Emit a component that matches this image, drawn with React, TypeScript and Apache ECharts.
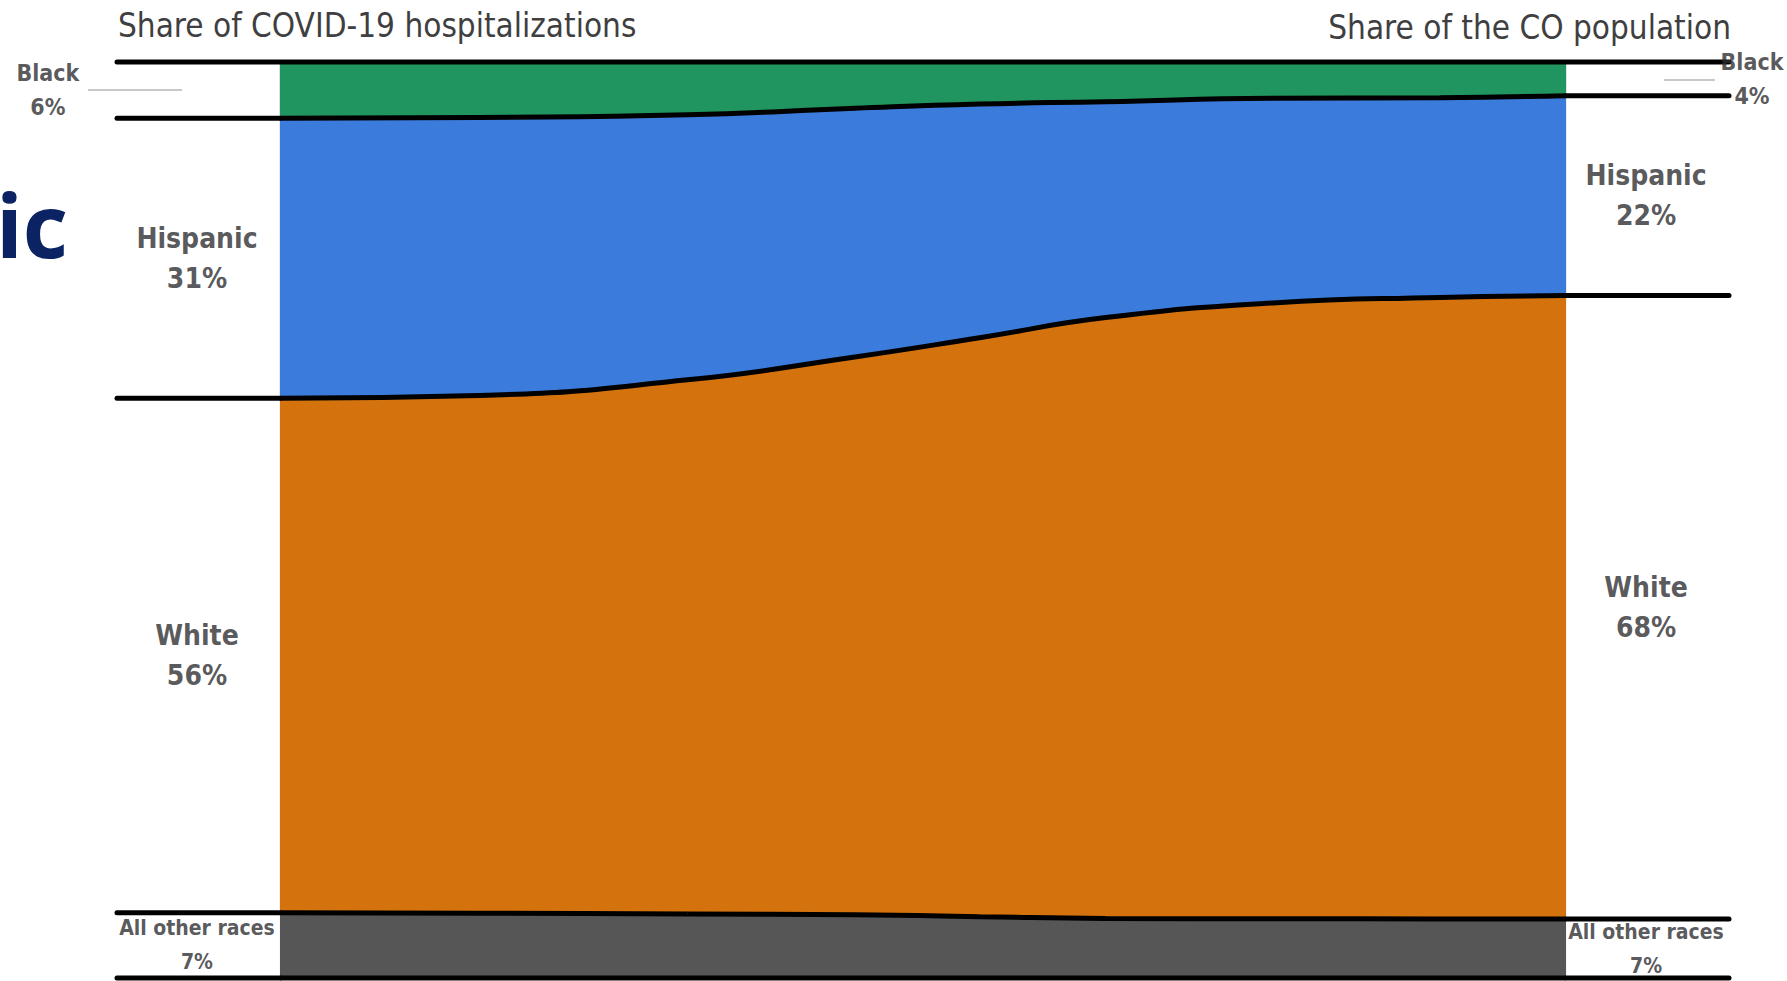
import React, { useEffect, useRef } from 'react';
import * as echarts from 'echarts';

// ---- Data ----
const groups = ['Black', 'Hispanic', 'White', 'All other races'];
// relative position along the transition (0 = hospitalizations, 1 = population)
const xSamples = [0, 0.155, 0.317, 0.447, 0.544, 0.642, 0.772, 0.902, 1];
const blackShare = [6.15, 6.06, 5.77, 5.05, 4.59, 4.33, 3.95, 3.89, 3.68];
const hispanicShare = [30.55, 30.34, 28.93, 27.15, 25.51, 23.57, 22.35, 21.81, 21.82];
const whiteShare = [56.17, 56.53, 58.3, 60.9, 63.2, 65.6, 67.23, 67.85, 68.06];
const otherShare = [7.13, 7.07, 7.0, 6.9, 6.7, 6.5, 6.47, 6.45, 6.44];
const hospLabels = ['6%', '31%', '56%', '7%'];
const popLabels = ['4%', '22%', '68%', '7%'];
const leftTitle = 'Share of COVID-19 hospitalizations';
const rightTitle = 'Share of the CO population';
const cutTitle = 'ic';

// ---- Styles ----
const COLORS = ['#20955f', '#3b7bdc', '#d4730d', '#565656'];
const FONT = "'Liberation Sans Narrow', 'DejaVu Sans Condensed', 'Roboto Condensed', 'Liberation Sans', sans-serif";
const TEXT = '#2e2e32';
const XMIN = -0.1267;
const XMAX = 1.1267;
const LEFT_LABEL_X = -0.0645;
const RIGHT_LABEL_X = 1.0622;
const LEFT_BLACK_X = -0.1804;
const RIGHT_BLACK_X = 1.1446;

export default function App() {
  const ref = useRef<HTMLDivElement>(null);

  useEffect(() => {
    const chart = echarts.init(ref.current!, null, { renderer: 'svg' });
    const shares = [blackShare, hispanicShare, whiteShare, otherShare];
    const n = xSamples.length;
    // cumulative boundaries from the top
    const cum: number[][] = [];
    let acc = new Array(n).fill(0);
    cum.push(acc.slice());
    shares.forEach((s) => {
      acc = acc.map((v, i) => v + s[i]);
      cum.push(acc.slice());
    });

    // Each area fills from the top (0) down to its lower boundary; painted
    // bottom group first so the upper groups cover the shared part.
    const areaSeries = shares
      .map((_, gi) => ({
        type: 'line',
        name: groups[gi],
        smooth: 0.5,
        symbol: 'none',
        clip: false,
        data: xSamples.map((x, i) => [x, cum[gi + 1][i]]),
        lineStyle: { color: '#000', width: 5 },
        areaStyle: { color: COLORS[gi], opacity: 1, origin: 'start' },
        z: 6 - gi,
      }))
      .reverse();

    const extSeries: any[] = [];
    cum.forEach((b, k) => {
      const lineStyle = { color: '#000', width: 5, cap: 'round' };
      if (k === 0) {
        extSeries.push({
          type: 'line', symbol: 'none', clip: false, silent: true, z: 10,
          data: [[XMIN, b[0]], [XMAX, b[n - 1]]], lineStyle,
        });
      } else {
        extSeries.push({
          type: 'line', symbol: 'none', clip: false, silent: true, z: 10,
          data: [[XMIN, b[0]], [0, b[0]]], lineStyle,
        });
        extSeries.push({
          type: 'line', symbol: 'none', clip: false, silent: true, z: 10,
          data: [[1, b[n - 1]], [XMAX, b[n - 1]]], lineStyle,
        });
      }
    });

    const labelItems: any[] = [];
    groups.forEach((g, gi) => {
      const midL = (cum[gi][0] + cum[gi + 1][0]) / 2;
      const midR = (cum[gi][n - 1] + cum[gi + 1][n - 1]) / 2;
      const isBlack = gi === 0;
      const isOther = gi === 3;
      const fontSize = isBlack ? 23 : isOther ? 21 : 28;
      const lineHeight = isBlack ? 34 : isOther ? 34 : 40;
      const mk = (x: number, y: number, pct: string) => ({
        value: [x, y],
        label: {
          show: true,
          formatter: g + '\n' + pct,
          fontSize,
          lineHeight,
          fontWeight: 'bold',
          fontFamily: FONT,
          color: TEXT,
          align: 'center',
          verticalAlign: 'middle',
          position: 'inside',
        },
      });
      labelItems.push(mk(isBlack ? LEFT_BLACK_X : LEFT_LABEL_X, midL, hospLabels[gi]));
      labelItems.push(mk(isBlack ? RIGHT_BLACK_X : RIGHT_LABEL_X, midR, popLabels[gi]));
    });

    const option: any = {
      animation: false,
      backgroundColor: '#ffffff',
      grid: { left: 117, right: 58, top: 62, bottom: 3 },
      xAxis: { type: 'value', min: XMIN, max: XMAX, show: false },
      yAxis: { type: 'value', min: 0, max: 100, inverse: true, show: false },
      series: [
        ...areaSeries,
        ...extSeries,
        {
          type: 'scatter',
          symbol: 'circle',
          symbolSize: 1,
          itemStyle: { color: 'rgba(0,0,0,0)' },
          clip: false,
          silent: true,
          z: 20,
          data: labelItems,
        },
      ],
      graphic: [
        {
          type: 'text', z: 30,
          style: { text: leftTitle, x: 118, y: 25, font: `33px ${FONT}`, fill: '#3f3f42', textAlign: 'left', textVerticalAlign: 'middle', verticalAlign: 'middle' },
        },
        {
          type: 'text', z: 30,
          style: { text: rightTitle, x: 1731, y: 27, font: `33px ${FONT}`, fill: '#3f3f42', textAlign: 'right', textVerticalAlign: 'middle', verticalAlign: 'middle' },
        },
        {
          type: 'text', z: 30,
          style: { text: cutTitle, x: -4, y: 268, font: `bold 88px 'Open Sans', 'Noto Sans', sans-serif`, fill: '#0b2363', textAlign: 'left', textVerticalAlign: 'bottom', verticalAlign: 'bottom' },
        },
        {
          type: 'line', z: 5,
          shape: { x1: 88, y1: 90, x2: 182, y2: 90 },
          style: { stroke: '#b5b5b5', lineWidth: 1.5 },
        },
        {
          type: 'line', z: 5,
          shape: { x1: 1664, y1: 80, x2: 1715, y2: 80 },
          style: { stroke: '#b5b5b5', lineWidth: 1.5 },
        },
      ],
    };
    chart.setOption(option);
    return () => chart.dispose();
  }, []);

  return (
    <div
      ref={ref}
      style={{ position: 'fixed', left: 0, top: 0, width: 1787, height: 981, background: '#fff' }}
    />
  );
}
